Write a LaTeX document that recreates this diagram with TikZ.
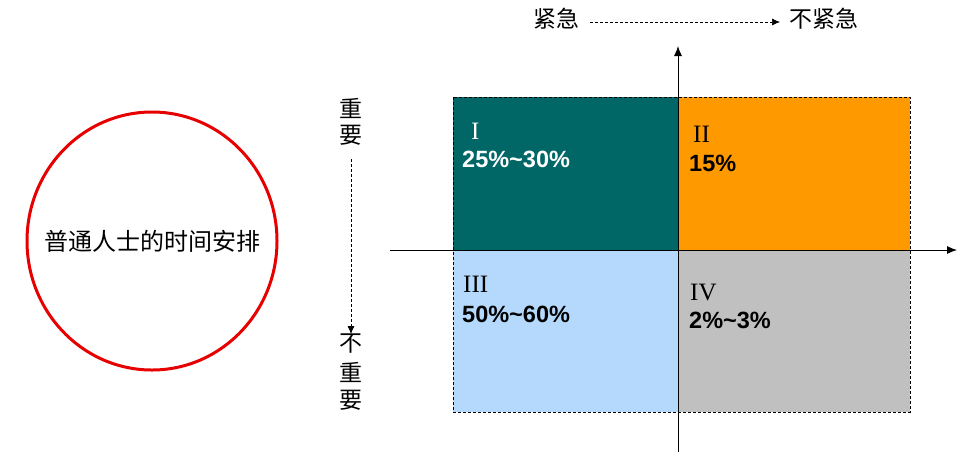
\documentclass[tikz,border=0pt]{standalone}
\usepackage{fontspec}
\setmainfont{Liberation Serif}
\newfontfamily\cjk{Noto Sans CJK SC}
\newfontfamily\pctfont{Liberation Sans}
\usetikzlibrary{arrows.meta}
\definecolor{qteal}{RGB}{0,102,102}
\definecolor{qorange}{RGB}{255,153,0}
\definecolor{qblue}{RGB}{180,217,252}
\definecolor{qgray}{RGB}{192,192,192}
\definecolor{qred}{RGB}{230,0,0}
\begin{document}
\begin{tikzpicture}[x=1pt,y=-1pt,
  cjklab/.style={font=\cjk\fontsize{23}{24}\selectfont, inner sep=0pt},
  roman/.style={font=\fontsize{25}{26}\selectfont, inner sep=0pt, anchor=west},
  pct/.style={font=\pctfont\bfseries\fontsize{23.5}{24}\selectfont, inner sep=0pt, anchor=west},
  dasharrow/.style={dash pattern=on 3pt off 2pt, -{Latex[length=8pt,width=7pt]}, line width=0.7pt},
  axis/.style={line width=0.9pt, -{Latex[length=10pt,width=8pt]}}]
\useasboundingbox (0,0) rectangle (965,459);
% quadrants
\fill[qteal] (453,97) rectangle (678,250);
\fill[qorange] (678,97) rectangle (910,250);
\fill[qblue] (453,250) rectangle (678,412);
\fill[qgray] (678,250) rectangle (910,412);
\draw[dash pattern=on 3pt off 2pt, line width=0.7pt] (453,97) rectangle (910,412);
% axes
\coordinate (xs) at (390,250);
\coordinate (xe) at (957,250);
\coordinate (ys) at (678,452);
\coordinate (ye) at (678,46);
\draw[axis] (xs) -- (xe);
\draw[axis] (ys) -- (ye);
% quadrant labels
\node[roman, text=white] (r1) at (471,131) {I};
\node[pct, text=white] (p1) at (462,159) {25\%\textasciitilde30\%};
\node[roman] (r2) at (693,134) {II};
\node[pct] (p2) at (689,163) {15\%};
\node[roman] (r3) at (463,284) {III};
\node[pct] (p3) at (462,314) {50\%\textasciitilde60\%};
\node[roman] (r4) at (690,292) {IV};
\node[pct] (p4) at (689,320) {2\%\textasciitilde3\%};
% top labels
\node[cjklab] (ji) at (556,19) {紧急};
\node[cjklab] (buji) at (824,19) {不紧急};
\coordinate (a1) at (590,22);
\coordinate (a2) at (780,22);
\draw[dasharrow] (a1) -- (a2);
% side labels
\node[cjklab] (zh1) at (351,108) {重};
\node[cjklab] (ya1) at (351,135) {要};
\node[cjklab] (bu2) at (351,344) {不};
\node[cjklab] (zh2) at (351,372) {重};
\node[cjklab] (ya2) at (351,400) {要};
\coordinate (v1) at (351,159);
\draw[dasharrow] (v1) -- (bu2.north);
% circle
\draw[qred, line width=3pt] (152,241) ellipse [x radius=125, y radius=129];
\node[font=\cjk\fontsize{24}{26}\selectfont, inner sep=0pt] (c) at (152,241) {普通人士的时间安排};
\end{tikzpicture}
\end{document}
